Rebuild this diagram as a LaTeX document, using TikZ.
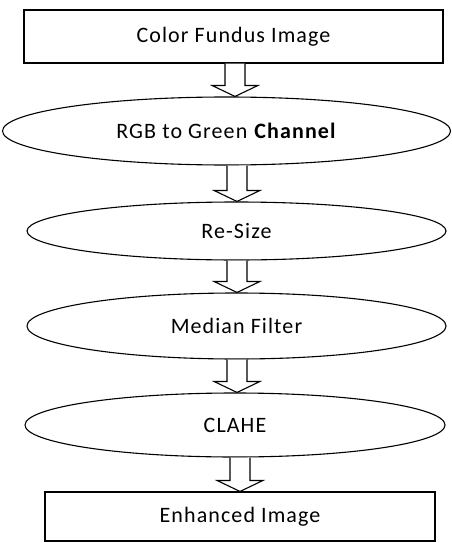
\documentclass[tikz,border=0pt]{standalone}
\usepackage{fontspec}
\setmainfont[LetterSpace=5]{Carlito}
\usetikzlibrary{shapes.geometric,calc}
\tikzset{
  box/.style={draw, rectangle, inner sep=0pt, line width=1.1pt},
  oval/.style={draw, ellipse, inner sep=0pt, line width=1.1pt},
  blockarrow/.style={draw, line width=1.1pt, fill=white, line join=miter},
}
% hollow block arrow from the bottom of node #1 to the top of node #2, centred at x=#3
\newcommand{\flowarrow}[3]{%
  \draw[blockarrow] let \p1=(#1.south), \p2=(#2.north) in
    (#3pt-10pt,\y1) -- (#3pt-10pt,\y2+11pt) -- (#3pt-23pt,\y2+11pt) -- (#3pt,\y2)
    -- (#3pt+23pt,\y2+11pt) -- (#3pt+10pt,\y2+11pt) -- (#3pt+10pt,\y1);}
\begin{document}
\begin{tikzpicture}[x=1pt,y=-1pt, font=\fontsize{22}{26}\selectfont]
\useasboundingbox (0,0) rectangle (452,543);
\node[box, minimum width=419pt, minimum height=53pt] (src) at (233.5,36.5) {Color Fundus Image};
\node[oval, minimum width=448pt, minimum height=68pt] (green) at (226.5,131) {RGB to Green \textbf{Channel}};
\node[oval, minimum width=419pt, minimum height=58pt] (resize) at (236.5,231) {Re-Size};
\node[oval, minimum width=419pt, minimum height=66pt] (median) at (236.5,326) {Median Filter};
\node[oval, minimum width=420pt, minimum height=64pt] (clahe) at (235,425) {CLAHE};
\node[box, minimum width=390pt, minimum height=49pt] (out) at (240,516.5) {Enhanced Image};
\flowarrow{src}{green}{235}
\flowarrow{green}{resize}{237}
\flowarrow{resize}{median}{237}
\flowarrow{median}{clahe}{237}
\flowarrow{clahe}{out}{240}
\end{tikzpicture}
\end{document}
